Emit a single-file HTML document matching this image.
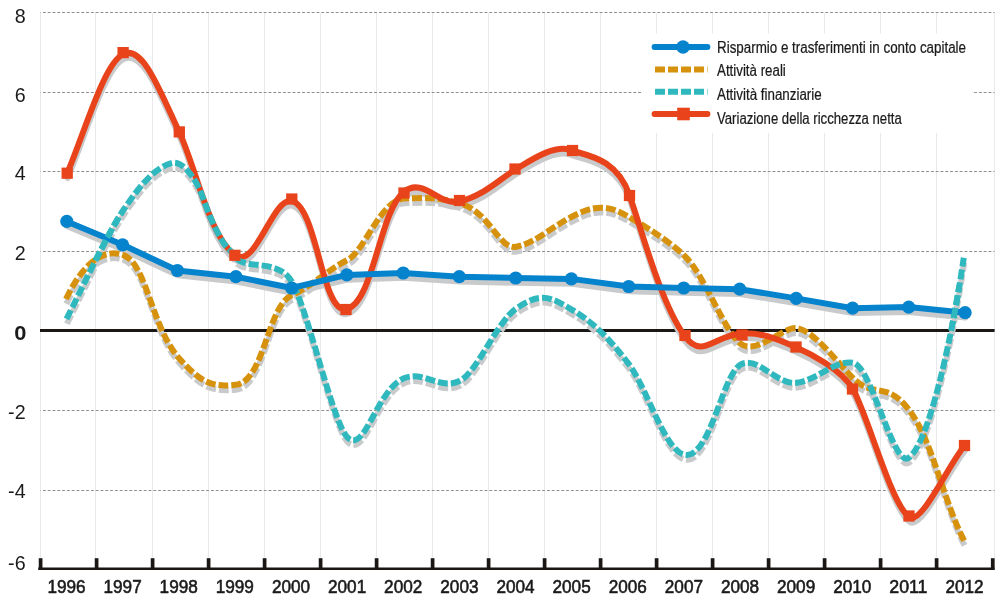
<!DOCTYPE html><html><head><meta charset="utf-8"><title>Grafico</title>
<style>html,body{margin:0;padding:0;background:#fff}svg{display:block}text{font-family:"Liberation Sans",sans-serif;fill:#1a1a1a}</style></head><body>
<svg width="1000" height="602" viewBox="0 0 1000 602">
<rect width="1000" height="602" fill="#fff"/>
<g stroke="#e9e9e9" stroke-width="1">
<line x1="40.5" y1="12.5" x2="40.5" y2="568" />
<line x1="95.5" y1="12.5" x2="95.5" y2="568" />
<line x1="152.5" y1="12.5" x2="152.5" y2="568" />
<line x1="208.5" y1="12.5" x2="208.5" y2="568" />
<line x1="264.5" y1="12.5" x2="264.5" y2="568" />
<line x1="320.5" y1="12.5" x2="320.5" y2="568" />
<line x1="376.5" y1="12.5" x2="376.5" y2="568" />
<line x1="432.5" y1="12.5" x2="432.5" y2="568" />
<line x1="488.5" y1="12.5" x2="488.5" y2="568" />
<line x1="544.5" y1="12.5" x2="544.5" y2="568" />
<line x1="600.5" y1="12.5" x2="600.5" y2="568" />
<line x1="656.5" y1="12.5" x2="656.5" y2="568" />
<line x1="712.5" y1="12.5" x2="712.5" y2="568" />
<line x1="768.5" y1="12.5" x2="768.5" y2="568" />
<line x1="824.5" y1="12.5" x2="824.5" y2="568" />
<line x1="880.5" y1="12.5" x2="880.5" y2="568" />
<line x1="936.5" y1="12.5" x2="936.5" y2="568" />
<line x1="994.5" y1="12.5" x2="994.5" y2="568" />
</g>
<g stroke="#8f8f8f" stroke-width="1" stroke-dasharray="2.9,1.9" stroke-dashoffset="2.4">
<line x1="40.5" y1="12.50" x2="994.5" y2="12.50"/>
<line x1="40.5" y1="92.50" x2="994.5" y2="92.50"/>
<line x1="40.5" y1="171.50" x2="994.5" y2="171.50"/>
<line x1="40.5" y1="251.50" x2="994.5" y2="251.50"/>
<line x1="40.5" y1="410.50" x2="994.5" y2="410.50"/>
<line x1="40.5" y1="490.50" x2="994.5" y2="490.50"/>
</g>
<rect x="643" y="33.5" width="329" height="99.5" fill="#fff"/>
<line x1="40" y1="330.4" x2="994.6" y2="330.4" stroke="#1a1715" stroke-width="3"/>
<line x1="38.2" y1="568.8" x2="994.6" y2="568.8" stroke="#1a1715" stroke-width="2.4"/>
<g stroke="#1a1715" stroke-width="3.7">
<line x1="40.60" y1="558.2" x2="40.60" y2="569.5"/>
<line x1="96.60" y1="558.2" x2="96.60" y2="569.5"/>
<line x1="152.60" y1="558.2" x2="152.60" y2="569.5"/>
<line x1="208.60" y1="558.2" x2="208.60" y2="569.5"/>
<line x1="264.60" y1="558.2" x2="264.60" y2="569.5"/>
<line x1="320.60" y1="558.2" x2="320.60" y2="569.5"/>
<line x1="376.60" y1="558.2" x2="376.60" y2="569.5"/>
<line x1="432.60" y1="558.2" x2="432.60" y2="569.5"/>
<line x1="488.60" y1="558.2" x2="488.60" y2="569.5"/>
<line x1="544.60" y1="558.2" x2="544.60" y2="569.5"/>
<line x1="600.60" y1="558.2" x2="600.60" y2="569.5"/>
<line x1="656.60" y1="558.2" x2="656.60" y2="569.5"/>
<line x1="712.60" y1="558.2" x2="712.60" y2="569.5"/>
<line x1="768.60" y1="558.2" x2="768.60" y2="569.5"/>
<line x1="824.60" y1="558.2" x2="824.60" y2="569.5"/>
<line x1="880.60" y1="558.2" x2="880.60" y2="569.5"/>
<line x1="936.60" y1="558.2" x2="936.60" y2="569.5"/>
<line x1="992.75" y1="558.2" x2="992.75" y2="569.5"/>
</g>
<g>
<path d="M66.00,299.04 C80.69,268.06 100.90,246.80 123.40,255.11 C147.03,263.84 150.83,326.60 179.50,358.83 C203.30,385.58 215.35,386.82 235.60,384.85 C264.32,382.05 267.17,306.16 291.70,295.29 C311.88,286.35 328.38,269.23 347.80,259.82 C363.78,252.09 381.28,199.67 403.90,198.55 C426.44,197.43 438.70,197.18 460.00,203.40 C490.37,212.26 498.83,249.94 516.10,246.77 C535.14,243.27 549.89,228.04 572.20,216.47 C592.57,205.90 607.23,203.58 628.30,216.63 C638.19,222.76 664.90,237.27 684.40,255.71 C704.79,274.99 723.84,331.04 740.50,343.65 C756.36,355.66 782.99,326.59 796.60,328.14 C813.55,330.08 837.75,362.74 852.70,377.90 C874.05,399.55 885.79,379.77 908.80,409.61 C932.84,440.77 942.67,500.15 965.00,542.38" fill="none" stroke="#c9cacc" stroke-width="6" stroke-linejoin="round" stroke-linecap="butt" stroke-dasharray="10,3" transform="translate(0.4,4.8)"/>
<path d="M67.20,173.23 C85.49,130.04 103.93,63.80 123.10,54.15 C142.47,44.39 159.09,89.04 179.30,132.27 C196.07,168.14 209.40,236.57 234.90,255.04 C255.87,270.23 272.51,196.67 291.80,200.86 C316.94,206.33 321.97,313.94 346.00,309.19 C373.48,303.76 379.00,212.65 403.50,192.22 C423.13,175.85 439.14,206.55 459.50,201.49 C484.01,195.40 499.87,178.97 515.50,169.44 C531.51,159.68 555.38,143.35 572.50,150.59 C583.60,155.28 615.97,156.29 629.50,195.31 C642.53,232.88 660.70,302.47 684.50,335.84 C702.23,360.69 714.76,334.30 743.40,333.21 C759.80,332.59 772.58,336.99 796.50,347.42 C807.43,352.19 842.40,369.50 853.25,389.73 C869.47,419.98 891.66,505.66 909.50,517.22 C921.60,525.06 948.22,465.36 964.60,445.68" fill="none" stroke="#c9cacc" stroke-width="6" stroke-linejoin="round" stroke-linecap="round" transform="translate(0.4,4.8)"/>
<path d="M66.50,318.96 C81.37,289.73 107.68,233.47 123.40,210.02 C141.79,182.59 155.93,167.36 172.00,162.95 C180.52,160.62 191.48,172.08 200.00,190.21 C202.57,195.68 206.84,209.30 211.00,218.82 C214.43,226.67 218.77,234.93 222.00,240.42 C227.07,249.03 231.26,250.38 234.90,256.54 C243.18,270.55 278.30,257.75 291.70,281.47 C308.44,311.10 333.03,424.40 347.80,437.82 C365.09,453.55 376.69,389.91 403.90,378.32 C423.59,369.93 439.88,390.58 460.00,380.81 C476.53,372.79 497.10,321.90 516.10,308.64 C541.17,291.14 551.10,297.31 572.20,309.81 C592.87,322.04 607.98,337.22 628.30,363.36 C646.41,386.66 664.93,451.07 684.40,454.74 C710.15,459.59 721.99,375.47 740.50,364.66 C757.22,354.89 776.63,385.43 796.60,382.81 C817.11,380.12 833.86,360.35 852.70,362.64 C871.53,364.93 893.25,468.93 908.80,457.79 C928.78,443.47 951.96,339.04 963.75,257.69" fill="none" stroke="#c9cacc" stroke-width="6" stroke-linejoin="round" stroke-linecap="butt" stroke-dasharray="10,3" transform="translate(0.4,4.8)"/>
<path d="M66.80,221.40 L122.60,244.80 L177.40,270.50 L235.90,276.70 L291.70,288.00 L346.80,274.90 L403.20,273.00 L459.30,276.70 L515.70,278.00 L571.40,278.90 L628.70,286.50 L683.70,288.00 L739.70,289.20 L796.20,298.40 L852.60,308.20 L908.70,307.10 L965.10,312.70" fill="none" stroke="#c9cacc" stroke-width="6" stroke-linejoin="round" stroke-linecap="round" transform="translate(0.4,4.8)"/>
</g><g>
<path d="M66.00,299.04 C80.69,268.06 100.90,246.80 123.40,255.11 C147.03,263.84 150.83,326.60 179.50,358.83 C203.30,385.58 215.35,386.82 235.60,384.85 C264.32,382.05 267.17,306.16 291.70,295.29 C311.88,286.35 328.38,269.23 347.80,259.82 C363.78,252.09 381.28,199.67 403.90,198.55 C426.44,197.43 438.70,197.18 460.00,203.40 C490.37,212.26 498.83,249.94 516.10,246.77 C535.14,243.27 549.89,228.04 572.20,216.47 C592.57,205.90 607.23,203.58 628.30,216.63 C638.19,222.76 664.90,237.27 684.40,255.71 C704.79,274.99 723.84,331.04 740.50,343.65 C756.36,355.66 782.99,326.59 796.60,328.14 C813.55,330.08 837.75,362.74 852.70,377.90 C874.05,399.55 885.79,379.77 908.80,409.61 C932.84,440.77 942.67,500.15 965.00,542.38" fill="none" stroke="#d6920c" stroke-width="6" stroke-linejoin="round" stroke-linecap="butt" stroke-dasharray="10,3"/>
<path d="M67.20,173.23 C85.49,130.04 103.93,63.80 123.10,54.15 C142.47,44.39 159.09,89.04 179.30,132.27 C196.07,168.14 209.40,236.57 234.90,255.04 C255.87,270.23 272.51,196.67 291.80,200.86 C316.94,206.33 321.97,313.94 346.00,309.19 C373.48,303.76 379.00,212.65 403.50,192.22 C423.13,175.85 439.14,206.55 459.50,201.49 C484.01,195.40 499.87,178.97 515.50,169.44 C531.51,159.68 555.38,143.35 572.50,150.59 C583.60,155.28 615.97,156.29 629.50,195.31 C642.53,232.88 660.70,302.47 684.50,335.84 C702.23,360.69 714.76,334.30 743.40,333.21 C759.80,332.59 772.58,336.99 796.50,347.42 C807.43,352.19 842.40,369.50 853.25,389.73 C869.47,419.98 891.66,505.66 909.50,517.22 C921.60,525.06 948.22,465.36 964.60,445.68" fill="none" stroke="#e8431a" stroke-width="6" stroke-linejoin="round" stroke-linecap="round"/>
<path d="M66.50,318.96 C81.37,289.73 107.68,233.47 123.40,210.02 C141.79,182.59 155.93,167.36 172.00,162.95 C180.52,160.62 191.48,172.08 200.00,190.21 C202.57,195.68 206.84,209.30 211.00,218.82 C214.43,226.67 218.77,234.93 222.00,240.42 C227.07,249.03 231.26,250.38 234.90,256.54 C243.18,270.55 278.30,257.75 291.70,281.47 C308.44,311.10 333.03,424.40 347.80,437.82 C365.09,453.55 376.69,389.91 403.90,378.32 C423.59,369.93 439.88,390.58 460.00,380.81 C476.53,372.79 497.10,321.90 516.10,308.64 C541.17,291.14 551.10,297.31 572.20,309.81 C592.87,322.04 607.98,337.22 628.30,363.36 C646.41,386.66 664.93,451.07 684.40,454.74 C710.15,459.59 721.99,375.47 740.50,364.66 C757.22,354.89 776.63,385.43 796.60,382.81 C817.11,380.12 833.86,360.35 852.70,362.64 C871.53,364.93 893.25,468.93 908.80,457.79 C928.78,443.47 951.96,339.04 963.75,257.69" fill="none" stroke="#2fb8bd" stroke-width="6" stroke-linejoin="round" stroke-linecap="butt" stroke-dasharray="10,3"/>
<path d="M66.80,221.40 L122.60,244.80 L177.40,270.50 L235.90,276.70 L291.70,288.00 L346.80,274.90 L403.20,273.00 L459.30,276.70 L515.70,278.00 L571.40,278.90 L628.70,286.50 L683.70,288.00 L739.70,289.20 L796.20,298.40 L852.60,308.20 L908.70,307.10 L965.10,312.70" fill="none" stroke="#0583cd" stroke-width="6" stroke-linejoin="round" stroke-linecap="round"/>
</g><clipPath id="tp"><rect x="92" y="215" width="36" height="45"/><rect x="940" y="285" width="30" height="40"/></clipPath><g clip-path="url(#tp)"><path d="M66.50,318.96 C81.37,289.73 107.68,233.47 123.40,210.02 C141.79,182.59 155.93,167.36 172.00,162.95 C180.52,160.62 191.48,172.08 200.00,190.21 C202.57,195.68 206.84,209.30 211.00,218.82 C214.43,226.67 218.77,234.93 222.00,240.42 C227.07,249.03 231.26,250.38 234.90,256.54 C243.18,270.55 278.30,257.75 291.70,281.47 C308.44,311.10 333.03,424.40 347.80,437.82 C365.09,453.55 376.69,389.91 403.90,378.32 C423.59,369.93 439.88,390.58 460.00,380.81 C476.53,372.79 497.10,321.90 516.10,308.64 C541.17,291.14 551.10,297.31 572.20,309.81 C592.87,322.04 607.98,337.22 628.30,363.36 C646.41,386.66 664.93,451.07 684.40,454.74 C710.15,459.59 721.99,375.47 740.50,364.66 C757.22,354.89 776.63,385.43 796.60,382.81 C817.11,380.12 833.86,360.35 852.70,362.64 C871.53,364.93 893.25,468.93 908.80,457.79 C928.78,443.47 951.96,339.04 963.75,257.69" fill="none" stroke="#2fb8bd" stroke-width="6" stroke-linejoin="round" stroke-linecap="butt" stroke-dasharray="10,3"/></g><g fill="#0583cd">
<circle cx="66.8" cy="221.4" r="6.6"/>
<circle cx="122.6" cy="244.8" r="6.6"/>
<circle cx="177.4" cy="270.5" r="6.6"/>
<circle cx="235.9" cy="276.7" r="6.6"/>
<circle cx="291.7" cy="288.0" r="6.6"/>
<circle cx="346.8" cy="274.9" r="6.6"/>
<circle cx="403.2" cy="273.0" r="6.6"/>
<circle cx="459.3" cy="276.7" r="6.6"/>
<circle cx="515.7" cy="278.0" r="6.6"/>
<circle cx="571.4" cy="278.9" r="6.6"/>
<circle cx="628.7" cy="286.5" r="6.6"/>
<circle cx="683.7" cy="288.0" r="6.6"/>
<circle cx="739.7" cy="289.2" r="6.6"/>
<circle cx="796.2" cy="298.4" r="6.6"/>
<circle cx="852.6" cy="308.2" r="6.6"/>
<circle cx="908.7" cy="307.1" r="6.6"/>
<circle cx="965.1" cy="312.7" r="6.6"/>
</g><g fill="#e8431a">
<rect x="61.55" y="167.60" width="11.3" height="11.2"/>
<rect x="117.45" y="47.00" width="11.3" height="11.2"/>
<rect x="173.65" y="126.30" width="11.3" height="11.2"/>
<rect x="229.25" y="249.70" width="11.3" height="11.2"/>
<rect x="286.15" y="193.40" width="11.3" height="11.2"/>
<rect x="340.35" y="303.90" width="11.3" height="11.2"/>
<rect x="398.35" y="187.40" width="11.3" height="11.2"/>
<rect x="453.85" y="194.90" width="11.3" height="11.2"/>
<rect x="509.35" y="163.40" width="11.3" height="11.2"/>
<rect x="566.85" y="144.90" width="11.3" height="11.2"/>
<rect x="623.85" y="189.90" width="11.3" height="11.2"/>
<rect x="679.35" y="329.90" width="11.3" height="11.2"/>
<rect x="736.35" y="329.40" width="11.3" height="11.2"/>
<rect x="790.35" y="341.40" width="11.3" height="11.2"/>
<rect x="846.85" y="383.40" width="11.3" height="11.2"/>
<rect x="903.35" y="510.40" width="11.3" height="11.2"/>
<rect x="958.85" y="439.90" width="11.3" height="11.2"/>
</g>
<g>
<line x1="654.5" y1="47" x2="707.5" y2="47" stroke="#0583cd" stroke-width="5.8" stroke-linecap="round"/><circle cx="683" cy="47" r="6.75" fill="#0583cd"/>
<line x1="655" y1="69.4" x2="707.5" y2="69.4" stroke="#d6920c" stroke-width="6" stroke-dasharray="10,3"/>
<line x1="655" y1="91.8" x2="707.5" y2="91.8" stroke="#2fb8bd" stroke-width="6" stroke-dasharray="10,3"/>
<line x1="654.5" y1="114" x2="707.5" y2="114" stroke="#e8431a" stroke-width="5.8" stroke-linecap="round"/><rect x="677.2" y="107.7" width="12.6" height="12.6" fill="#e8431a"/>
<text x="717" y="52.5" font-size="16" textLength="249.0" lengthAdjust="spacingAndGlyphs" stroke="#1a1a1a" stroke-width="0.22">Risparmio e trasferimenti in conto capitale</text>
<text x="717" y="76.0" font-size="16" textLength="68.8" lengthAdjust="spacingAndGlyphs" stroke="#1a1a1a" stroke-width="0.22">Attività reali</text>
<text x="717" y="99.5" font-size="16" textLength="104.7" lengthAdjust="spacingAndGlyphs" stroke="#1a1a1a" stroke-width="0.22">Attività finanziarie</text>
<text x="717" y="123.5" font-size="16" textLength="184.8" lengthAdjust="spacingAndGlyphs" stroke="#1a1a1a" stroke-width="0.22">Variazione della ricchezza netta</text>
</g>
<text transform="translate(25.6,22.6) scale(1.015,1)" font-size="19.4" text-anchor="end">8</text>
<text transform="translate(25.6,101.6) scale(1.015,1)" font-size="19.4" text-anchor="end">6</text>
<text transform="translate(25.6,180.2) scale(1.015,1)" font-size="19.4" text-anchor="end">4</text>
<text transform="translate(25.6,260.4) scale(1.015,1)" font-size="19.4" text-anchor="end">2</text>
<text transform="translate(26.5,339.8) scale(1.07,1)" font-size="20.4" text-anchor="end" font-weight="bold">0</text>
<text transform="translate(25.6,418.9) scale(1.015,1)" font-size="19.4" text-anchor="end">-2</text>
<text transform="translate(25.6,497.7) scale(1.015,1)" font-size="19.4" text-anchor="end">-4</text>
<text transform="translate(25.6,570.2) scale(1.015,1)" font-size="19.4" text-anchor="end">-6</text>
<text x="47.4" y="593.25" font-size="19.2" textLength="38.2" lengthAdjust="spacingAndGlyphs" stroke="#1a1a1a" stroke-width="0.6">1996</text>
<text x="103.5" y="593.25" font-size="19.2" textLength="38.2" lengthAdjust="spacingAndGlyphs" stroke="#1a1a1a" stroke-width="0.6">1997</text>
<text x="159.6" y="593.25" font-size="19.2" textLength="38.2" lengthAdjust="spacingAndGlyphs" stroke="#1a1a1a" stroke-width="0.6">1998</text>
<text x="215.7" y="593.25" font-size="19.2" textLength="38.2" lengthAdjust="spacingAndGlyphs" stroke="#1a1a1a" stroke-width="0.6">1999</text>
<text x="271.9" y="593.25" font-size="19.2" textLength="38.2" lengthAdjust="spacingAndGlyphs" stroke="#1a1a1a" stroke-width="0.6">2000</text>
<text x="328.0" y="593.25" font-size="19.2" textLength="38.2" lengthAdjust="spacingAndGlyphs" stroke="#1a1a1a" stroke-width="0.6">2001</text>
<text x="384.1" y="593.25" font-size="19.2" textLength="38.2" lengthAdjust="spacingAndGlyphs" stroke="#1a1a1a" stroke-width="0.6">2002</text>
<text x="440.3" y="593.25" font-size="19.2" textLength="38.2" lengthAdjust="spacingAndGlyphs" stroke="#1a1a1a" stroke-width="0.6">2003</text>
<text x="496.4" y="593.25" font-size="19.2" textLength="38.2" lengthAdjust="spacingAndGlyphs" stroke="#1a1a1a" stroke-width="0.6">2004</text>
<text x="552.5" y="593.25" font-size="19.2" textLength="38.2" lengthAdjust="spacingAndGlyphs" stroke="#1a1a1a" stroke-width="0.6">2005</text>
<text x="608.7" y="593.25" font-size="19.2" textLength="38.2" lengthAdjust="spacingAndGlyphs" stroke="#1a1a1a" stroke-width="0.6">2006</text>
<text x="664.8" y="593.25" font-size="19.2" textLength="38.2" lengthAdjust="spacingAndGlyphs" stroke="#1a1a1a" stroke-width="0.6">2007</text>
<text x="720.9" y="593.25" font-size="19.2" textLength="38.2" lengthAdjust="spacingAndGlyphs" stroke="#1a1a1a" stroke-width="0.6">2008</text>
<text x="777.0" y="593.25" font-size="19.2" textLength="38.2" lengthAdjust="spacingAndGlyphs" stroke="#1a1a1a" stroke-width="0.6">2009</text>
<text x="833.2" y="593.25" font-size="19.2" textLength="38.2" lengthAdjust="spacingAndGlyphs" stroke="#1a1a1a" stroke-width="0.6">2010</text>
<text x="889.3" y="593.25" font-size="19.2" textLength="38.2" lengthAdjust="spacingAndGlyphs" stroke="#1a1a1a" stroke-width="0.6">2011</text>
<text x="945.4" y="593.25" font-size="19.2" textLength="38.2" lengthAdjust="spacingAndGlyphs" stroke="#1a1a1a" stroke-width="0.6">2012</text>
</svg></body></html>
